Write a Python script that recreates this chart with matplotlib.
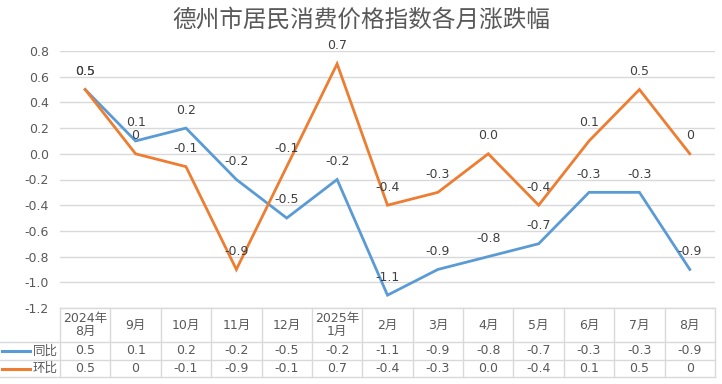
import matplotlib
matplotlib.use('Agg')
import matplotlib.pyplot as plt
import matplotlib.transforms as mtransforms

plt.rcParams['font.family'] = ['DejaVu Sans', 'Noto Sans CJK SC']

months = ['2024年\n8月', '9月', '10月', '11月', '12月', '2025年\n1月', '2月',
          '3月', '4月', '5月', '6月', '7月', '8月']
yoy = [0.5, 0.1, 0.2, -0.2, -0.5, -0.2, -1.1, -0.9, -0.8, -0.7, -0.3, -0.3, -0.9]
mom = [0.5, 0, -0.1, -0.9, -0.1, 0.7, -0.4, -0.3, 0.0, -0.4, 0.1, 0.5, 0]
yoy_txt = ['0.5', '0.1', '0.2', '-0.2', '-0.5', '-0.2', '-1.1', '-0.9', '-0.8', '-0.7', '-0.3', '-0.3', '-0.9']
mom_txt = ['0.5', '0', '-0.1', '-0.9', '-0.1', '0.7', '-0.4', '-0.3', '0.0', '-0.4', '0.1', '0.5', '0']
series = [('同比', yoy, yoy_txt, '#5B9BD5'), ('环比', mom, mom_txt, '#ED7D31')]

W, H = 722, 384
fig = plt.figure(figsize=(W / 100, H / 100), dpi=100)
ax = fig.add_axes([60 / W, 1 - 308 / H, 655 / W, 257 / H])

grid_c = '#D9D9D9'
txt_c = '#595959'
lab_c = '#404040'

x = list(range(len(months)))
for name, vals, txts, c in series:
    ax.plot(x, vals, color=c, lw=2.0, solid_joinstyle='miter', zorder=3)
for name, vals, txts, c in series:
    for xi, v, t in zip(x, vals, txts):
        ax.annotate(t, (xi, v), xytext=(0, 13), textcoords='offset points',
                    ha='center', va='center', fontsize=9, color=lab_c, zorder=4)

ax.set_xlim(-0.5, len(months) - 0.5)
ax.set_ylim(-1.2, 0.8)
ax.set_yticks([0.8, 0.6, 0.4, 0.2, 0.0, -0.2, -0.4, -0.6, -0.8, -1.0, -1.2])
ax.set_yticklabels([f'{v:.1f}' for v in ax.get_yticks()])
ax.tick_params(axis='y', length=0, labelsize=9, labelcolor=txt_c, pad=8)
ax.set_xticks([])
ax.grid(axis='y', color=grid_c, lw=1)
ax.set_axisbelow(True)
for s in ax.spines.values():
    s.set_visible(False)

fig.text(0.5, 1 - 20 / H, '德州市居民消费价格指数各月涨跌幅', ha='center', va='center',
         fontsize=17, color=txt_c)

# data table under the plot
tr = mtransforms.blended_transform_factory(ax.transData, ax.transAxes)
y_head = -34 / 257
y_r1 = -52 / 257
y_r2 = -69 / 257
left = -60 / 655
lk = dict(color=grid_c, lw=1, clip_on=False)
ax.plot([0, 1], [0, 0], transform=ax.transAxes, **lk)
for yy in (y_head, y_r1, y_r2):
    ax.plot([left, 1], [yy, yy], transform=ax.transAxes, **lk)
for i in range(len(months) + 1):
    ax.plot([i - 0.5, i - 0.5], [0, y_r2], transform=tr, **lk)

for i, m in enumerate(months):
    ax.text(i, y_head / 2, m, transform=tr, ha='center', va='center',
            fontsize=9, color=txt_c, linespacing=1.0)
    ax.text(i, (y_head + y_r1) / 2, yoy_txt[i], transform=tr, ha='center', va='center',
            fontsize=9, color=txt_c)
    ax.text(i, (y_r1 + y_r2) / 2, mom_txt[i], transform=tr, ha='center', va='center',
            fontsize=9, color=txt_c)

for (name, vals, txts, c), (y0, y1) in zip(series, [(y_head, y_r1), (y_r1, y_r2)]):
    ym = (y0 + y1) / 2
    ax.plot([-58 / 655, -30 / 655], [ym, ym], transform=ax.transAxes, color=c,
            lw=2.2, clip_on=False)
    ax.text(-27 / 655, ym, name, transform=ax.transAxes, ha='left', va='center',
            fontsize=9, color=txt_c)

fig.savefig('out.png', dpi=100)
